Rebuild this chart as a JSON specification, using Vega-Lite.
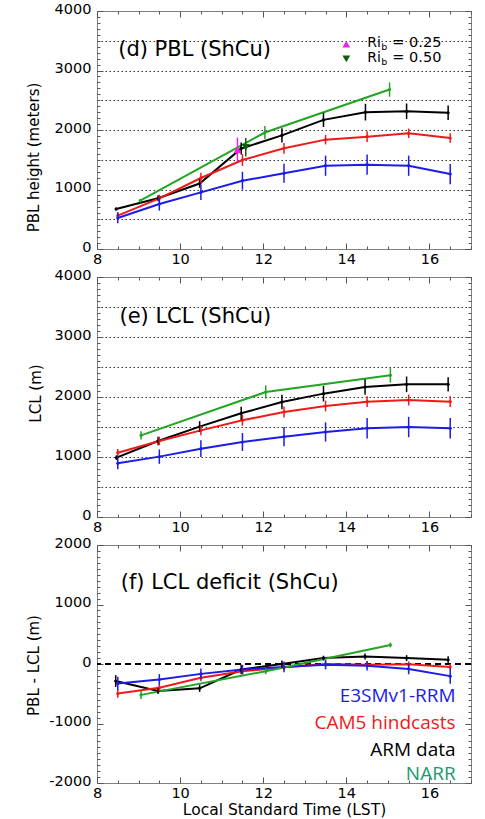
{
  "$schema": "https://vega.github.io/schema/vega-lite/v6.json",
  "background": "white",
  "padding": {"left": 25, "top": 0, "right": 0, "bottom": 0},
  "config": {
    "font": "DejaVu Sans",
    "view": {"stroke": "#808080", "strokeWidth": 1},
    "axis": {
      "domain": false,
      "grid": false,
      "labelFont": "DejaVu Sans",
      "labelFontSize": 14.5,
      "labelColor": "#000000",
      "labelOverlap": false,
      "labelFlush": false,
      "labelBound": false,
      "tickColor": "#555555",
      "tickWidth": 1,
      "titleFont": "DejaVu Sans",
      "titleFontSize": 15,
      "titleFontWeight": "normal",
      "titleColor": "#000000"
    }
  },
  "datasets": {
    "pbl": [
      {"s": "ARM", "t": 8.46, "v": 672, "e": 25},
      {"s": "ARM", "t": 9.47, "v": 852, "e": 50},
      {"s": "ARM", "t": 10.47, "v": 1100, "e": 70},
      {"s": "ARM", "t": 11.47, "v": 1690, "e": 100},
      {"s": "ARM", "t": 12.45, "v": 1910, "e": 120},
      {"s": "ARM", "t": 13.45, "v": 2170, "e": 120},
      {"s": "ARM", "t": 14.46, "v": 2300, "e": 140},
      {"s": "ARM", "t": 15.45, "v": 2315, "e": 130},
      {"s": "ARM", "t": 16.45, "v": 2290, "e": 120},
      {"s": "CAM5", "t": 8.5, "v": 560, "e": 60},
      {"s": "CAM5", "t": 9.5, "v": 852, "e": 60},
      {"s": "CAM5", "t": 10.5, "v": 1193, "e": 90},
      {"s": "CAM5", "t": 11.5, "v": 1496, "e": 100},
      {"s": "CAM5", "t": 12.5, "v": 1692, "e": 90},
      {"s": "CAM5", "t": 13.5, "v": 1838, "e": 80},
      {"s": "CAM5", "t": 14.5, "v": 1888, "e": 90},
      {"s": "CAM5", "t": 15.5, "v": 1944, "e": 80},
      {"s": "CAM5", "t": 16.5, "v": 1866, "e": 80},
      {"s": "E3SM", "t": 8.5, "v": 521, "e": 90},
      {"s": "E3SM", "t": 9.5, "v": 756, "e": 110},
      {"s": "E3SM", "t": 10.5, "v": 952, "e": 130},
      {"s": "E3SM", "t": 11.5, "v": 1148, "e": 150},
      {"s": "E3SM", "t": 12.5, "v": 1272, "e": 160},
      {"s": "E3SM", "t": 13.5, "v": 1400, "e": 170},
      {"s": "E3SM", "t": 14.5, "v": 1417, "e": 170},
      {"s": "E3SM", "t": 15.5, "v": 1400, "e": 170},
      {"s": "E3SM", "t": 16.5, "v": 1260, "e": 170},
      {"s": "NARR", "t": 9.04, "v": 812, "e": 30},
      {"s": "NARR", "t": 12.04, "v": 1958, "e": 110},
      {"s": "NARR", "t": 15.04, "v": 2680, "e": 120}
    ],
    "lcl": [
      {"s": "ARM", "t": 8.47, "v": 989, "e": 40},
      {"s": "ARM", "t": 9.47, "v": 1267, "e": 70},
      {"s": "ARM", "t": 10.47, "v": 1506, "e": 90},
      {"s": "ARM", "t": 11.47, "v": 1728, "e": 110},
      {"s": "ARM", "t": 12.45, "v": 1917, "e": 120},
      {"s": "ARM", "t": 13.45, "v": 2056, "e": 130},
      {"s": "ARM", "t": 14.45, "v": 2167, "e": 130},
      {"s": "ARM", "t": 15.45, "v": 2211, "e": 130},
      {"s": "ARM", "t": 16.45, "v": 2211, "e": 120},
      {"s": "CAM5", "t": 8.5, "v": 1072, "e": 60},
      {"s": "CAM5", "t": 9.5, "v": 1267, "e": 70},
      {"s": "CAM5", "t": 10.5, "v": 1444, "e": 80},
      {"s": "CAM5", "t": 11.5, "v": 1611, "e": 90},
      {"s": "CAM5", "t": 12.5, "v": 1750, "e": 90},
      {"s": "CAM5", "t": 13.5, "v": 1850, "e": 90},
      {"s": "CAM5", "t": 14.5, "v": 1922, "e": 90},
      {"s": "CAM5", "t": 15.5, "v": 1950, "e": 90},
      {"s": "CAM5", "t": 16.5, "v": 1922, "e": 90},
      {"s": "E3SM", "t": 8.5, "v": 894, "e": 100},
      {"s": "E3SM", "t": 9.5, "v": 1006, "e": 120},
      {"s": "E3SM", "t": 10.5, "v": 1139, "e": 140},
      {"s": "E3SM", "t": 11.5, "v": 1250, "e": 150},
      {"s": "E3SM", "t": 12.5, "v": 1339, "e": 160},
      {"s": "E3SM", "t": 13.5, "v": 1417, "e": 160},
      {"s": "E3SM", "t": 14.5, "v": 1478, "e": 170},
      {"s": "E3SM", "t": 15.5, "v": 1500, "e": 170},
      {"s": "E3SM", "t": 16.5, "v": 1478, "e": 170},
      {"s": "NARR", "t": 9.06, "v": 1361, "e": 70},
      {"s": "NARR", "t": 12.06, "v": 2083, "e": 110},
      {"s": "NARR", "t": 15.06, "v": 2361, "e": 120}
    ],
    "def": [
      {"s": "ARM", "t": 8.45, "v": -287, "e": 100},
      {"s": "ARM", "t": 9.47, "v": -453, "e": 50},
      {"s": "ARM", "t": 10.47, "v": -409, "e": 60},
      {"s": "ARM", "t": 11.47, "v": -94, "e": 80},
      {"s": "ARM", "t": 12.45, "v": 0, "e": 60},
      {"s": "ARM", "t": 13.45, "v": 99, "e": 40},
      {"s": "ARM", "t": 14.45, "v": 127, "e": 50},
      {"s": "ARM", "t": 15.45, "v": 99, "e": 50},
      {"s": "ARM", "t": 16.45, "v": 72, "e": 60},
      {"s": "CAM5", "t": 8.5, "v": -497, "e": 70},
      {"s": "CAM5", "t": 9.5, "v": -398, "e": 60},
      {"s": "CAM5", "t": 10.5, "v": -232, "e": 60},
      {"s": "CAM5", "t": 11.5, "v": -122, "e": 50},
      {"s": "CAM5", "t": 12.5, "v": -55, "e": 50},
      {"s": "CAM5", "t": 13.5, "v": 0, "e": 50},
      {"s": "CAM5", "t": 14.5, "v": -11, "e": 50},
      {"s": "CAM5", "t": 15.5, "v": -6, "e": 50},
      {"s": "CAM5", "t": 16.5, "v": -50, "e": 50},
      {"s": "E3SM", "t": 8.5, "v": -326, "e": 110},
      {"s": "E3SM", "t": 9.5, "v": -260, "e": 90},
      {"s": "E3SM", "t": 10.5, "v": -166, "e": 90},
      {"s": "E3SM", "t": 11.5, "v": -94, "e": 80},
      {"s": "E3SM", "t": 12.5, "v": -50, "e": 90},
      {"s": "E3SM", "t": 13.5, "v": -11, "e": 80},
      {"s": "E3SM", "t": 14.5, "v": -28, "e": 80},
      {"s": "E3SM", "t": 15.5, "v": -83, "e": 90},
      {"s": "E3SM", "t": 16.5, "v": -204, "e": 130},
      {"s": "NARR", "t": 9.06, "v": -519, "e": 70},
      {"s": "NARR", "t": 12.06, "v": -122, "e": 50},
      {"s": "NARR", "t": 15.06, "v": 320, "e": 40}
    ]
  },
  "bounds": "flush",
  "spacing": 28,
  "vconcat": [
    {
      "width": 374,
      "height": 238,
      "data": {"name": "pbl"},
      "resolve": {"axis": {"x": "independent", "y": "independent"}},
      "layer": [
        {
          "mark": {"type": "line", "strokeWidth": 2},
          "encoding": {
            "x": {"field": "t", "type": "quantitative", "scale": {"domain": [8, 17], "nice": false, "zero": false},
              "axis": {"values": [8,8.5,9,9.5,10,10.5,11,11.5,12,12.5,13,13.5,14,14.5,15,15.5,16,16.5,17],
                "labelExpr": "datum.value % 2 === 0 ? '' + datum.value : ''",
                "tickSize": {"condition": {"test": "datum.value % 2 === 0", "value": -6}, "value": -3},
                "labelPadding": 9, "title": null}},
            "y": {"field": "v", "type": "quantitative", "scale": {"domain": [0, 4000], "nice": false},
              "axis": {"values": [0,100,200,300,400,500,600,700,800,900,1000,1100,1200,1300,1400,1500,1600,1700,1800,1900,2000,2100,2200,2300,2400,2500,2600,2700,2800,2900,3000,3100,3200,3300,3400,3500,3600,3700,3800,3900,4000],
                "labelExpr": "datum.value % 1000 === 0 ? '' + datum.value : ''",
                "tickSize": {"condition": {"test": "datum.value % 1000 === 0", "value": -6}, "value": -3},
                "labelPadding": 12, "labelOffset": -2,
                "grid": true, "gridDash": [1.5, 2.5], "gridColor": "#333333", "gridWidth": 1,
                "gridOpacity": {"condition": {"test": "datum.value % 500 === 0 && datum.value > 0 && datum.value < 4000", "value": 1}, "value": 0},
                "title": "PBL height (meters)", "titleX": -64, "titleY": 146, "titleBaseline": "middle"}},
            "color": {"field": "s", "type": "nominal", "legend": null,
              "scale": {"domain": ["ARM", "CAM5", "E3SM", "NARR", "NARR legend", "Ri 0.25", "Ri 0.50"], "range": ["#000000", "#ee1a1a", "#1c1ce8", "#22a522", "#1b9a6e", "#ee22ee", "#0b5d0b"]}}
          }
        },
        {
          "mark": {"type": "point", "filled": true, "size": 10, "opacity": 1},
          "encoding": {
            "x": {"field": "t", "type": "quantitative",
              "axis": {"orient": "top", "values": [8,8.5,9,9.5,10,10.5,11,11.5,12,12.5,13,13.5,14,14.5,15,15.5,16,16.5,17],
                "labels": false, "tickSize": {"condition": {"test": "datum.value % 2 === 0", "value": -6}, "value": -3}, "title": null}},
            "y": {"field": "v", "type": "quantitative",
              "axis": {"orient": "right", "values": [0,100,200,300,400,500,600,700,800,900,1000,1100,1200,1300,1400,1500,1600,1700,1800,1900,2000,2100,2200,2300,2400,2500,2600,2700,2800,2900,3000,3100,3200,3300,3400,3500,3600,3700,3800,3900,4000],
                "labels": false, "tickSize": {"condition": {"test": "datum.value % 1000 === 0", "value": -6}, "value": -3}, "title": null}},
            "color": {"field": "s", "type": "nominal", "legend": null}
          }
        },
        {
          "mark": {"type": "errorbar", "thickness": 1.5},
          "encoding": {
            "x": {"field": "t", "type": "quantitative", "axis": null},
            "y": {"field": "v", "type": "quantitative", "axis": null},
            "yError": {"field": "e"},
            "color": {"field": "s", "type": "nominal", "legend": null}
          }
        },
        {
          "data": {"values": [{"s": "Ri 0.25", "t": 11.38, "v": 1670, "e": 200}, {"s": "Ri 0.50", "t": 11.58, "v": 1710, "e": 155}]},
          "mark": {"type": "errorbar", "thickness": 1.5},
          "encoding": {
            "x": {"field": "t", "type": "quantitative", "axis": null},
            "y": {"field": "v", "type": "quantitative", "axis": null},
            "yError": {"field": "e"},
            "color": {"field": "s", "type": "nominal", "legend": null}
          }
        },
        {
          "data": {"values": [{"t": 11.38, "v": 1670}, {"t": 14.0, "v": 3445}]},
          "mark": {"type": "point", "shape": "triangle-up", "filled": true, "size": 60, "opacity": 1, "color": "#ee22ee"},
          "encoding": {
            "x": {"field": "t", "type": "quantitative", "axis": null},
            "y": {"field": "v", "type": "quantitative", "axis": null}
          }
        },
        {
          "data": {"values": [{"t": 11.58, "v": 1710}, {"t": 14.0, "v": 3195}]},
          "mark": {"type": "point", "shape": "triangle-down", "filled": true, "size": 60, "opacity": 1, "color": "#0b5d0b"},
          "encoding": {
            "x": {"field": "t", "type": "quantitative", "axis": null},
            "y": {"field": "v", "type": "quantitative", "axis": null}
          }
        },
        {
          "data": {"values": [{"t": 14.0, "v": 3445, "val": "= 0.25"}, {"t": 14.0, "v": 3195, "val": "= 0.50"}]},
          "layer": [
            {
              "mark": {"type": "text", "text": "Ri", "align": "left", "baseline": "alphabetic", "dx": 21, "dy": 3, "fontSize": 14, "font": "DejaVu Sans", "color": "#000000"},
              "encoding": {
                "x": {"field": "t", "type": "quantitative", "axis": null},
                "y": {"field": "v", "type": "quantitative", "axis": null}
              }
            },
            {
              "mark": {"type": "text", "text": "b", "align": "left", "baseline": "alphabetic", "dx": 35, "dy": 6, "fontSize": 9.5, "font": "DejaVu Sans", "color": "#000000"},
              "encoding": {
                "x": {"field": "t", "type": "quantitative", "axis": null},
                "y": {"field": "v", "type": "quantitative", "axis": null}
              }
            },
            {
              "mark": {"type": "text", "align": "left", "baseline": "alphabetic", "dx": 46, "dy": 3, "fontSize": 14.5, "font": "DejaVu Sans", "color": "#000000"},
              "encoding": {
                "x": {"field": "t", "type": "quantitative", "axis": null},
                "y": {"field": "v", "type": "quantitative", "axis": null},
                "text": {"field": "val"}
              }
            }
          ]
        },
        {
          "data": {"values": [{"label": "(d) PBL (ShCu)", "t": 8.51, "v": 3252}]},
          "mark": {"type": "text", "align": "left", "baseline": "alphabetic", "fontSize": 21, "font": "DejaVu Sans", "color": "#000000"},
          "encoding": {
            "x": {"field": "t", "type": "quantitative", "axis": null},
            "y": {"field": "v", "type": "quantitative", "axis": null},
            "text": {"field": "label"}
          }
        }
      ]
    },
    {
      "width": 374,
      "height": 240,
      "data": {"name": "lcl"},
      "resolve": {"axis": {"x": "independent", "y": "independent"}},
      "layer": [
        {
          "mark": {"type": "line", "strokeWidth": 2},
          "encoding": {
            "x": {"field": "t", "type": "quantitative", "scale": {"domain": [8, 17], "nice": false, "zero": false},
              "axis": {"values": [8,8.5,9,9.5,10,10.5,11,11.5,12,12.5,13,13.5,14,14.5,15,15.5,16,16.5,17],
                "labelExpr": "datum.value % 2 === 0 ? '' + datum.value : ''",
                "tickSize": {"condition": {"test": "datum.value % 2 === 0", "value": -6}, "value": -3},
                "labelPadding": 9, "title": null}},
            "y": {"field": "v", "type": "quantitative", "scale": {"domain": [0, 4000], "nice": false},
              "axis": {"values": [0,100,200,300,400,500,600,700,800,900,1000,1100,1200,1300,1400,1500,1600,1700,1800,1900,2000,2100,2200,2300,2400,2500,2600,2700,2800,2900,3000,3100,3200,3300,3400,3500,3600,3700,3800,3900,4000],
                "labelExpr": "datum.value % 1000 === 0 ? '' + datum.value : ''",
                "tickSize": {"condition": {"test": "datum.value % 1000 === 0", "value": -6}, "value": -3},
                "labelPadding": 12, "labelOffset": -2,
                "grid": true, "gridDash": [1.5, 2.5], "gridColor": "#333333", "gridWidth": 1,
                "gridOpacity": {"condition": {"test": "datum.value % 500 === 0 && datum.value > 0 && datum.value < 4000", "value": 1}, "value": 0},
                "title": "LCL (m)", "titleX": -62, "titleY": 116, "titleBaseline": "middle"}},
            "color": {"field": "s", "type": "nominal", "legend": null,
              "scale": {"domain": ["ARM", "CAM5", "E3SM", "NARR", "NARR legend", "Ri 0.25", "Ri 0.50"], "range": ["#000000", "#ee1a1a", "#1c1ce8", "#22a522", "#1b9a6e", "#ee22ee", "#0b5d0b"]}}
          }
        },
        {
          "mark": {"type": "point", "filled": true, "size": 10, "opacity": 1},
          "encoding": {
            "x": {"field": "t", "type": "quantitative",
              "axis": {"orient": "top", "values": [8,8.5,9,9.5,10,10.5,11,11.5,12,12.5,13,13.5,14,14.5,15,15.5,16,16.5,17],
                "labels": false, "tickSize": {"condition": {"test": "datum.value % 2 === 0", "value": -6}, "value": -3}, "title": null}},
            "y": {"field": "v", "type": "quantitative",
              "axis": {"orient": "right", "values": [0,100,200,300,400,500,600,700,800,900,1000,1100,1200,1300,1400,1500,1600,1700,1800,1900,2000,2100,2200,2300,2400,2500,2600,2700,2800,2900,3000,3100,3200,3300,3400,3500,3600,3700,3800,3900,4000],
                "labels": false, "tickSize": {"condition": {"test": "datum.value % 1000 === 0", "value": -6}, "value": -3}, "title": null}},
            "color": {"field": "s", "type": "nominal", "legend": null}
          }
        },
        {
          "mark": {"type": "errorbar", "thickness": 1.5},
          "encoding": {
            "x": {"field": "t", "type": "quantitative", "axis": null},
            "y": {"field": "v", "type": "quantitative", "axis": null},
            "yError": {"field": "e"},
            "color": {"field": "s", "type": "nominal", "legend": null}
          }
        },
        {
          "data": {"values": [{"label": "(e) LCL (ShCu)", "t": 8.54, "v": 3238}]},
          "mark": {"type": "text", "align": "left", "baseline": "alphabetic", "fontSize": 21, "font": "DejaVu Sans", "color": "#000000"},
          "encoding": {
            "x": {"field": "t", "type": "quantitative", "axis": null},
            "y": {"field": "v", "type": "quantitative", "axis": null},
            "text": {"field": "label"}
          }
        }
      ]
    },
    {
      "width": 374,
      "height": 238,
      "data": {"name": "def"},
      "resolve": {"axis": {"x": "independent", "y": "independent"}},
      "layer": [
        {
          "mark": {"type": "rule", "strokeDash": [6, 4], "strokeWidth": 1, "color": "#000000"},
          "encoding": {"y": {"datum": 0, "type": "quantitative", "axis": null}}
        },
        {
          "mark": {"type": "line", "strokeWidth": 2},
          "encoding": {
            "x": {"field": "t", "type": "quantitative", "scale": {"domain": [8, 17], "nice": false, "zero": false},
              "axis": {"values": [8,8.5,9,9.5,10,10.5,11,11.5,12,12.5,13,13.5,14,14.5,15,15.5,16,16.5,17],
                "labelExpr": "datum.value % 2 === 0 ? '' + datum.value : ''",
                "tickSize": {"condition": {"test": "datum.value % 2 === 0", "value": -6}, "value": -3},
                "labelPadding": 9, "title": "Local Standard Time (LST)", "titleFontSize": 15.5, "titlePadding": 0}},
            "y": {"field": "v", "type": "quantitative", "scale": {"domain": [-2000, 2000], "nice": false},
              "axis": {"values": [-2000,-1900,-1800,-1700,-1600,-1500,-1400,-1300,-1200,-1100,-1000,-900,-800,-700,-600,-500,-400,-300,-200,-100,0,100,200,300,400,500,600,700,800,900,1000,1100,1200,1300,1400,1500,1600,1700,1800,1900,2000],
                "labelExpr": "datum.value % 1000 === 0 ? '' + datum.value : ''",
                "tickSize": {"condition": {"test": "datum.value % 1000 === 0", "value": -6}, "value": -3},
                "labelPadding": 12, "labelOffset": -2,
                "title": "PBL - LCL (m)", "titleX": -64, "titleY": 120, "titleBaseline": "middle"}},
            "color": {"field": "s", "type": "nominal", "legend": null,
              "scale": {"domain": ["ARM", "CAM5", "E3SM", "NARR", "NARR legend", "Ri 0.25", "Ri 0.50"], "range": ["#000000", "#ee1a1a", "#1c1ce8", "#22a522", "#1b9a6e", "#ee22ee", "#0b5d0b"]}}
          }
        },
        {
          "mark": {"type": "point", "filled": true, "size": 10, "opacity": 1},
          "encoding": {
            "x": {"field": "t", "type": "quantitative",
              "axis": {"orient": "top", "values": [8,8.5,9,9.5,10,10.5,11,11.5,12,12.5,13,13.5,14,14.5,15,15.5,16,16.5,17],
                "labels": false, "tickSize": {"condition": {"test": "datum.value % 2 === 0", "value": -6}, "value": -3}, "title": null}},
            "y": {"field": "v", "type": "quantitative",
              "axis": {"orient": "right", "values": [-2000,-1900,-1800,-1700,-1600,-1500,-1400,-1300,-1200,-1100,-1000,-900,-800,-700,-600,-500,-400,-300,-200,-100,0,100,200,300,400,500,600,700,800,900,1000,1100,1200,1300,1400,1500,1600,1700,1800,1900,2000],
                "labels": false, "tickSize": {"condition": {"test": "datum.value % 1000 === 0", "value": -6}, "value": -3}, "title": null}},
            "color": {"field": "s", "type": "nominal", "legend": null}
          }
        },
        {
          "mark": {"type": "errorbar", "thickness": 1.5},
          "encoding": {
            "x": {"field": "t", "type": "quantitative", "axis": null},
            "y": {"field": "v", "type": "quantitative", "axis": null},
            "yError": {"field": "e"},
            "color": {"field": "s", "type": "nominal", "legend": null}
          }
        },
        {
          "data": {"values": [{"label": "(f) LCL deficit (ShCu)", "t": 8.57, "v": 1260}]},
          "mark": {"type": "text", "align": "left", "baseline": "alphabetic", "fontSize": 21, "font": "DejaVu Sans", "color": "#000000"},
          "encoding": {
            "x": {"field": "t", "type": "quantitative", "axis": null},
            "y": {"field": "v", "type": "quantitative", "axis": null},
            "text": {"field": "label"}
          }
        },
        {
          "data": {"values": [
            {"label": "E3SMv1-RRM", "s": "E3SM", "t": 16.63, "v": -647},
            {"label": "CAM5 hindcasts", "s": "CAM5", "t": 16.63, "v": -1089},
            {"label": "ARM data", "s": "ARM", "t": 16.63, "v": -1541},
            {"label": "NARR", "s": "NARR legend", "t": 16.63, "v": -1945}
          ]},
          "mark": {"type": "text", "align": "right", "baseline": "alphabetic", "fontSize": 19, "font": "Open Sans"},
          "encoding": {
            "x": {"field": "t", "type": "quantitative", "axis": null},
            "y": {"field": "v", "type": "quantitative", "axis": null},
            "text": {"field": "label"},
            "color": {"field": "s", "type": "nominal", "legend": null}
          }
        }
      ]
    }
  ]
}
